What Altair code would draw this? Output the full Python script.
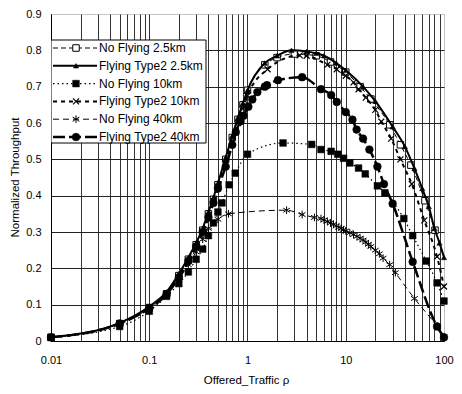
import altair as alt
import pandas as pd

series_names = ["No Flying 2.5km", "Flying Type2 2.5km", "No Flying 10km",
                "Flying Type2 10km", "No Flying 40km", "Flying Type2 40km"]

nf25_x = [0.01, 0.05, 0.1, 0.15, 0.2, 0.25, 0.3, 0.35, 0.4, 0.45, 0.5, 0.6, 0.7, 0.8, 0.9, 1.0,
          1.5, 2, 3, 5, 7, 10, 14, 18, 28, 36, 46, 64, 81]
nf25_y = [0.01, 0.048, 0.092, 0.13, 0.18, 0.225, 0.265, 0.305, 0.35, 0.39, 0.43, 0.50, 0.56, 0.61, 0.65, 0.69,
          0.76, 0.78, 0.79, 0.785, 0.768, 0.74, 0.70, 0.666, 0.595, 0.54, 0.484, 0.386, 0.305]

ft25_x = [0.01, 0.05, 0.1, 0.15, 0.2, 0.25, 0.3, 0.35, 0.4, 0.45, 0.5, 0.6, 0.7, 0.8, 0.9, 1.0,
          1.5, 2.0, 2.8, 4, 5, 6, 8, 10, 15, 20, 30, 40, 50, 60, 70, 80, 90, 100]
ft25_y = [0.01, 0.05, 0.095, 0.135, 0.185, 0.23, 0.27, 0.31, 0.355, 0.395, 0.435, 0.505, 0.565, 0.615, 0.655, 0.69,
          0.765, 0.785, 0.80, 0.797, 0.792, 0.785, 0.765, 0.745, 0.70, 0.66, 0.59, 0.535, 0.475, 0.42, 0.37, 0.31, 0.27, 0.23]

nf10_x = [0.01, 0.05, 0.1, 0.15, 0.2, 0.25, 0.3, 0.35, 0.4, 0.45, 0.5, 0.55, 0.65, 0.75, 1.0,
          2.3, 4.5, 5.6, 7.1, 8.3, 9.5, 11, 13.5, 15.8, 21, 25, 39, 48, 66, 85, 100]
nf10_y = [0.01, 0.04, 0.082, 0.123, 0.158, 0.19, 0.225, 0.253, 0.29, 0.325, 0.355, 0.38, 0.43, 0.462, 0.514,
          0.545, 0.541, 0.527, 0.522, 0.514, 0.503, 0.49, 0.476, 0.46, 0.427, 0.408, 0.337, 0.29, 0.22, 0.16, 0.11]

ft10_x = [0.01, 0.05, 0.1, 0.15, 0.2, 0.25, 0.3, 0.35, 0.4, 0.45, 0.5, 0.6, 0.7, 0.8, 0.9, 1.0,
          1.6, 3.4, 4, 6.5, 8.1, 10, 12, 13.5, 16, 20, 23, 29, 36, 47, 63, 85, 100]
ft10_y = [0.01, 0.048, 0.09, 0.128, 0.175, 0.22, 0.26, 0.30, 0.345, 0.385, 0.425, 0.49, 0.55, 0.60, 0.64, 0.675,
          0.748, 0.786, 0.785, 0.76, 0.748, 0.73, 0.712, 0.693, 0.67, 0.636, 0.604, 0.557, 0.50, 0.432, 0.332, 0.232, 0.15]

nf40_x = [0.01, 0.05, 0.1, 0.15, 0.2, 0.25, 0.3, 0.35, 0.4, 0.5, 0.64, 2.5, 3.6, 4.8, 5.6, 6, 6.5, 7, 7.5, 8,
          8.5, 9, 9.5, 10, 11, 12, 13, 14, 15, 16, 17, 18, 20, 22, 24, 28, 32, 50, 85, 100]
nf40_y = [0.01, 0.048, 0.09, 0.128, 0.17, 0.21, 0.245, 0.28, 0.31, 0.335, 0.35, 0.36, 0.348, 0.34, 0.337, 0.333,
          0.329, 0.325, 0.321, 0.317, 0.313, 0.31, 0.306, 0.303, 0.298, 0.293, 0.288, 0.283, 0.278, 0.272,
          0.266, 0.26, 0.25, 0.24, 0.228, 0.21, 0.188, 0.117, 0.04, 0.012]

ft40_x = [0.01, 0.05, 0.1, 0.15, 0.2, 0.25, 0.3, 0.35, 0.4, 0.45, 0.5, 0.6, 0.7, 0.76, 0.85, 0.91, 1.02, 1.12,
          1.26, 1.5, 1.58, 2.04, 3.6, 5.6, 7.1, 8.1, 10, 11.7, 12.9, 15, 17.4, 21, 24.5, 30, 48, 85, 100]
ft40_y = [0.01, 0.048, 0.09, 0.128, 0.175, 0.22, 0.26, 0.30, 0.34, 0.38, 0.42, 0.48, 0.54, 0.575, 0.605, 0.62,
          0.645, 0.665, 0.685, 0.70, 0.704, 0.718, 0.726, 0.693, 0.677, 0.658, 0.63, 0.609, 0.582, 0.557, 0.527,
          0.48, 0.432, 0.378, 0.218, 0.04, 0.01]

x_ticks = [m * 10.0 ** e for e in range(-2, 2) for m in range(1, 10)] + [100]
y_ticks = [0, 0.1, 0.2, 0.3, 0.4, 0.5, 0.6, 0.7, 0.8, 0.9]

FONT = "Liberation Sans"
ASTER = "M0,-1L0,1M-0.87,-0.55L0.87,0.55M-0.87,0.55L0.87,-0.55"
XMARK = "M-0.8,-0.8L0.8,0.8M-0.8,0.8L0.8,-0.8"

W, H = 393, 327

styles = [
    dict(lw=1, dash=[5, 3], shape="square", size=42, filled=True, fill="white", mw=1),
    dict(lw=2, dash=None, shape="triangle-up", size=28, filled=True, fill="black", mw=0.5),
    dict(lw=1.2, dash=[1.5, 3], shape="square", size=45, filled=True, fill="black", mw=0.5),
    dict(lw=2, dash=[4, 4], shape=XMARK, size=56, filled=False, fill=None, mw=1.2),
    dict(lw=1, dash=[6, 4], shape=ASTER, size=60, filled=False, fill=None, mw=1),
    dict(lw=2.5, dash=[12, 4], shape="circle", size=60, filled=True, fill="black", mw=0.5),
]
data_sets = [(nf25_x, nf25_y), (ft25_x, ft25_y), (nf10_x, nf10_y),
             (ft10_x, ft10_y), (nf40_x, nf40_y), (ft40_x, ft40_y)]

x_axis = alt.Axis(values=x_ticks, format="~g",
                  labelExpr="indexof(['0.01','0.1','1','10','100'], datum.label) >= 0 ? datum.label : ''",
                  grid=True, gridColor="#333", gridWidth=1,
                  gridOpacity={"condition": {"test": "datum.value >= 99", "value": 0}, "value": 1},
                  ticks=True, tickSize=0, labelPadding=13, labelFontSize=11,
                  domainColor="black", title="Offered_Traffic  ρ", titleFontSize=11.5,
                  titleFontWeight="normal", titleX=195, titleY=39, titleBaseline="middle",
                  labelFlush=False, labelOverlap=False)
y_axis = alt.Axis(values=y_ticks, format="~g", grid=True, gridColor="#222", gridWidth=1,
                  gridOpacity={"condition": {"test": "datum.value >= 0.89", "value": 0}, "value": 1},
                  ticks=True, tickSize=0, labelPadding=10, labelFontSize=11,
                  domainColor="black", title="Normalized Throughput", titleFontSize=11.5,
                  titleFontWeight="normal", titleX=-36, titleY=163, titleBaseline="middle",
                  titleAlign="center", labelFlush=False, labelOverlap=False)

X = alt.X("rho:Q", scale=alt.Scale(type="log", domain=[0.01, 100], nice=False), axis=x_axis)
Y = alt.Y("thr:Q", scale=alt.Scale(domain=[0, 0.9], nice=False, zero=False), axis=y_axis)


def point_kwargs(st):
    kw = dict(shape=st["shape"], size=st["size"], filled=st["filled"], stroke="black",
              strokeWidth=st["mw"], opacity=1)
    if st["fill"] is not None:
        kw["fill"] = st["fill"]
    return kw


def line_kwargs(st):
    kw = dict(color="black", strokeWidth=st["lw"])
    if st["dash"] is not None:
        kw["strokeDash"] = st["dash"]
    return kw


one = pd.DataFrame({"k": [0]})
LEG_TOP, LEG_BOTTOM, LEG_LEFT, LEG_RIGHT = 26, 129, 0, 155

layers = []
for (xs, ys), st in zip(data_sets, styles):
    df = pd.DataFrame({"rho": xs, "thr": ys})
    base = alt.Chart(df)
    layers.append(base.mark_line(interpolate="monotone", **line_kwargs(st)).encode(x=X, y=Y))
    layers.append(base.mark_point(**point_kwargs(st)).encode(x=X, y=Y))

# legend background: a thick white band
layers.append(alt.Chart(one).mark_rule(color="white", strokeWidth=LEG_BOTTOM - LEG_TOP).encode(
    x=alt.value(LEG_LEFT + 0.5), x2=alt.value(LEG_RIGHT), y=alt.value((LEG_TOP + LEG_BOTTOM) / 2)))
# legend outline
for ay in (LEG_TOP, LEG_BOTTOM):
    layers.append(alt.Chart(one).mark_rule(color="black", strokeWidth=1).encode(
        x=alt.value(LEG_LEFT), x2=alt.value(LEG_RIGHT), y=alt.value(ay)))
layers.append(alt.Chart(one).mark_rule(color="black", strokeWidth=1).encode(
    x=alt.value(LEG_RIGHT), y=alt.value(LEG_TOP), y2=alt.value(LEG_BOTTOM)))

for i, (name, st) in enumerate(zip(series_names, styles)):
    yy = LEG_TOP + 8 + 17.8 * i
    layers.append(alt.Chart(one).mark_rule(**line_kwargs(st)).encode(
        x=alt.value(2), x2=alt.value(46), y=alt.value(yy)))
    layers.append(alt.Chart(one).mark_point(**point_kwargs(st)).encode(
        x=alt.value(25), y=alt.value(yy)))
    layers.append(alt.Chart(one).mark_text(align="left", baseline="middle", fontSize=12,
                                          font=FONT, color="black").encode(
        x=alt.value(48), y=alt.value(yy), text=alt.value(name)))

chart = alt.layer(*layers).properties(
    width=W, height=H,
    autosize=alt.AutoSizeParams(type="none"),
    padding={"left": 43, "top": 6, "right": 10, "bottom": 45},
).configure_view(stroke="#888", strokeDash=[1, 1], strokeWidth=1).configure_axis(
    labelFont=FONT, titleFont=FONT, labelColor="black", titleColor="black"
)

chart.save("out.html", embed_options={"renderer": "svg", "actions": False})
